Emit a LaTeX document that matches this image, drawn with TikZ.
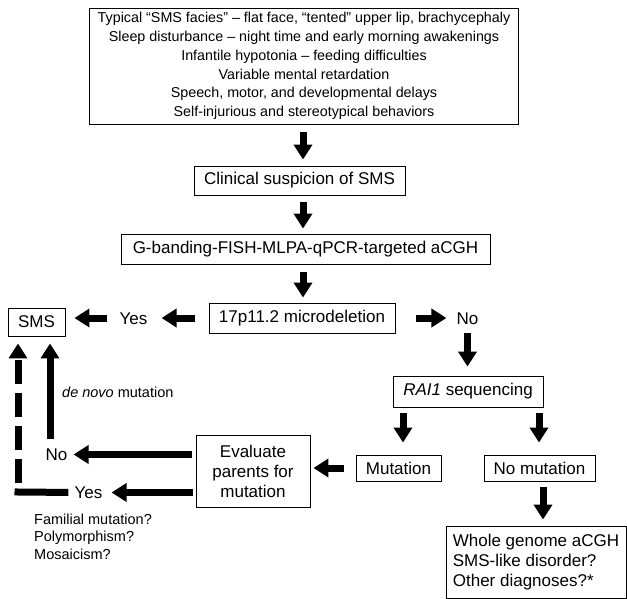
\documentclass[tikz,border=0pt]{standalone}
\usepackage{fontspec}
\setmainfont{Liberation Sans}
\usetikzlibrary{arrows.meta,calc}
\begin{document}
\begin{tikzpicture}[x=1pt,y=-1pt,
  box/.style={draw=black,line width=0.9pt,inner sep=0pt,font=\fontsize{17}{20}\selectfont,align=center},
  lbl/.style={inner sep=0pt,font=\fontsize{17}{20}\selectfont,text height=12.2pt,text depth=0pt},
  small/.style={inner sep=0pt,font=\fontsize{14.5}{17.5}\selectfont,align=left},
  blk/.style={line width=7pt,-{Triangle[length=15pt,width=18pt]}},
  bar/.style={line width=7pt},
]
\useasboundingbox (0,0) rectangle (627,599);

% boxes
\node[box,inner xsep=8pt,minimum height=116pt,font=\fontsize{14.3}{18.7}\selectfont] (top) at (304,66)
  {Typical “SMS facies” – flat face, “tented” upper lip, brachycephaly\\
   Sleep disturbance – night time and early morning awakenings\\
   Infantile hypotonia – feeding difficulties\\
   Variable mental retardation\\
   Speech, motor, and developmental delays\\
   Self-injurious and stereotypical behaviors};
\node[box,minimum width=211pt,minimum height=29pt] (clin) at (299.5,180.5) {Clinical suspicion of SMS};
\node[box,minimum width=369pt,minimum height=30pt] (gband) at (305.5,249) {G-banding-FISH-MLPA-qPCR-targeted aCGH};
\node[box,minimum width=186pt,minimum height=30pt] (del) at (302,318) {17p11.2 microdeletion};
\node[box,minimum width=57pt,minimum height=28pt] (sms) at (36.5,322) {SMS};
\node[box,minimum width=150pt,minimum height=31pt] (rai) at (468,391.5) {\textit{RAI1} sequencing};
\node[box,minimum width=85pt,minimum height=26pt] (mut) at (398.5,468) {Mutation};
\node[box,minimum width=111pt,minimum height=26pt] (nomut) at (539.5,468) {No mutation};
\node[box,minimum width=114pt,minimum height=72pt] (eval) at (253,471) {Evaluate\\parents for\\mutation};
\node[box,align=left,minimum width=180pt,minimum height=72pt] (whole) at (536,562)
  {Whole genome aCGH\\SMS-like disorder?\\Other diagnoses?*};

% plain labels
\node[lbl] (yes1) at (133.5,318) {Yes};
\node[lbl] (no1) at (467.5,318) {No};
\node[lbl] (no2) at (56.5,454.5) {No};
\node[lbl] (yes2) at (88.5,492.5) {Yes};
\node[small,anchor=west] (denovo) at (62,392) {\textit{de novo} mutation};
\node[small,anchor=north west] (fam) at (34,513.4) {Familial mutation?\\Polymorphism?\\Mosaicism?};

% helper coordinates
\coordinate (c1) at (303,0);
\coordinate (c2) at (403,0);
\coordinate (c3) at (539,0);
\coordinate (c4) at (543,0);
\coordinate (c5) at (50,0);
\coordinate (corner) at (18,492);

% arrows
\draw[blk,shorten <=8pt,shorten >=6pt] (top.south -| c1) -- (clin.north -| c1);
\draw[blk,shorten <=7pt,shorten >=5pt] (clin.south -| c1) -- (gband.north -| c1);
\draw[blk,shorten <=8pt,shorten >=5pt] (gband.south -| c1) -- (del.north -| c1);
\draw[blk,shorten <=14pt,shorten >=14pt] (del.west) -- (del.west -| yes1.east);
\draw[blk,shorten <=12pt,shorten >=9pt] (yes1.west) -- (yes1.west -| sms.east);
\draw[blk,shorten <=21pt,shorten >=10pt] (del.east) -- (del.east -| no1.west);
\draw[blk,shorten <=9pt,shorten >=9pt] (no1.south) -- (no1.south |- rai.north);
\draw[blk,shorten <=6pt,shorten >=12pt] (rai.south -| c2) -- (mut.north -| c2);
\draw[blk,shorten <=6pt,shorten >=12pt] (rai.south -| c3) -- (nomut.north -| c3);
\draw[blk,shorten <=6pt,shorten >=6pt] (nomut.south -| c4) -- (whole.north -| c4);
\draw[blk,shorten <=12pt,shorten >=3pt] (mut.west) -- (mut.west -| eval.east);
\draw[blk,shorten <=4pt,shorten >=6pt] (eval.west |- no2.east) -- (no2.east);
\draw[blk,shorten <=3pt,shorten >=9pt] (eval.west |- yes2.east) -- (yes2.east);
\draw[blk,shorten <=9pt,shorten >=7pt] (no2.north -| c5) -- (sms.south -| c5);
\draw[bar,line cap=rect,shorten <=9.5pt] (yes2.west) -- (corner);
\draw[blk,dash pattern=on 24pt off 9pt,dash phase=24pt,shorten >=7pt] (corner) -- (corner |- sms.south);
\end{tikzpicture}
\end{document}
